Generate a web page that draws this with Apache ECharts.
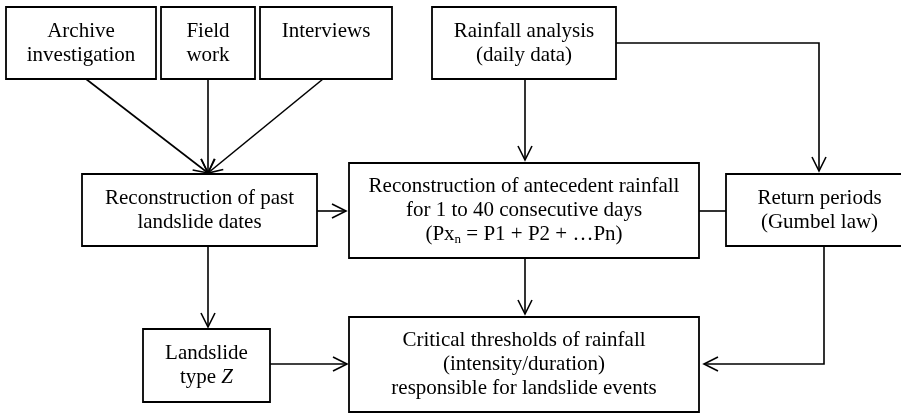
<!DOCTYPE html>
<html>
<head>
<meta charset="utf-8">
<script src="https://cdn.jsdelivr.net/npm/echarts@6/dist/echarts.min.js"></script>
<style>
	html, body { margin:0; padding:0; background:#fff; }
	#chart { width:901px; height:414px; }
</style>
</head>
<body>
<div id="chart"></div>
<script>
(function(){
	// boxes of the flow chart, in chart units (x to the right, y downward)
	const box_names = ['archive', 'field', 'interviews', 'rainfall', 'past', 'antecedent', 'return', 'critical', 'type'];
	const box_left = [6, 161, 260, 432, 82, 349, 726, 349, 143];
	const box_top = [7, 7, 7, 7, 174, 163, 174, 317, 329];
	const box_right = [156, 255, 392, 616, 317, 699, 913, 699, 270];
	const box_bottom = [79, 79, 79, 79, 246, 258, 246, 412, 402];
	const box_labels = [
		'Archive\ninvestigation',
		'Field\nwork',
		'Interviews\n ',
		'Rainfall analysis\n(daily data)',
		'Reconstruction of past\nlandslide dates',
		'Reconstruction of antecedent rainfall\nfor 1 to 40 consecutive days\n(Px{s|n} = P1 + P2 + …Pn)',
		'Return periods\n(Gumbel law)',
		'Critical thresholds of rainfall\n(intensity/duration)\nresponsible for landslide events',
		'Landslide\ntype {i|Z}'
	];

	// connectors: list of points, arrow head at the last point when flagged
	const link_points = [
		[[86, 79], [208, 173]],
		[[208, 79], [208, 173]],
		[[323, 79], [208, 173]],
		[[525, 79], [525, 160]],
		[[612, 43], [819, 43], [819, 171]],
		[[317, 211], [346, 211]],
		[[699, 211], [728, 211]],
		[[824, 246], [824, 364], [704, 364]],
		[[525, 258], [525, 314]],
		[[208, 246], [208, 327]],
		[[270, 364], [347, 364]]
	];
	const link_arrow = [true, true, true, true, true, true, false, true, true, true, true];

	const FONT = '"Liberation Serif", "Times New Roman", serif';
	const INK = '#000';

	let chart = echarts.init(document.getElementById('chart'), null, {renderer: 'canvas'});

	const render_box = (params, api)=>{
		let i = params.dataIndex;
		let p0 = api.coord([box_left[i], box_top[i]]);
		let p1 = api.coord([box_right[i], box_bottom[i]]);
		let cx = (p0[0] + p1[0]) / 2;
		let cy = (p0[1] + p1[1]) / 2;
		return {
			type: 'group',
			children: [{
				type: 'rect',
				shape: {x: p0[0], y: p0[1], width: p1[0] - p0[0], height: p1[1] - p0[1]},
				style: {fill: '#fff', stroke: INK, lineWidth: 1.8}
			}, {
				type: 'text',
				x: cx,
				y: cy,
				style: {
					text: box_labels[i],
					fill: INK,
					font: '21px ' + FONT,
					lineHeight: 24,
					align: 'center',
					verticalAlign: 'middle',
					rich: {
						s: {fontSize: 13, fontFamily: FONT, fill: INK, lineHeight: 24, padding: [10, 0, 0, 0]},
						i: {fontSize: 21, fontFamily: FONT, fontStyle: 'italic', fill: INK, lineHeight: 24}
					}
				}
			}]
		};
	};

	const render_link = (params, api)=>{
		let i = params.dataIndex;
		let pts = link_points[i].map(p=>api.coord(p));
		let children = [{
			type: 'polyline',
			shape: {points: pts},
			style: {stroke: INK, lineWidth: 1.6, fill: null}
		}];
		if(link_arrow[i]){
			let tip = pts[pts.length - 1];
			let prev = pts[pts.length - 2];
			let dx = tip[0] - prev[0], dy = tip[1] - prev[1];
			let len = Math.sqrt(dx*dx + dy*dy);
			let ux = dx / len, uy = dy / len;
			let L = 14, W = 7;
			children.push({
				type: 'polyline',
				shape: {points: [
					[tip[0] - L*ux - W*uy, tip[1] - L*uy + W*ux],
					tip,
					[tip[0] - L*ux + W*uy, tip[1] - L*uy - W*ux]
				]},
				style: {stroke: INK, lineWidth: 1.6, fill: null}
			});
		}
		return {type: 'group', children: children};
	};

	let option = {
		animation: false,
		backgroundColor: '#fff',
		grid: {left: 0, right: 0, top: 0, bottom: 0},
		xAxis: {type: 'value', min: 0, max: 901, show: false},
		yAxis: {type: 'value', min: 0, max: 414, inverse: true, show: false},
		series: [{
			type: 'custom',
			name: 'links',
			silent: true,
			clip: false,
			renderItem: render_link,
			data: link_points.map((p, i)=>[p[0][0], p[0][1], i])
		}, {
			type: 'custom',
			name: 'boxes',
			silent: true,
			clip: false,
			renderItem: render_box,
			data: box_names.map((n, i)=>[box_left[i], box_top[i], box_right[i], box_bottom[i]])
		}]
	};
	chart.setOption(option);
})();
</script>
</body>
</html>
